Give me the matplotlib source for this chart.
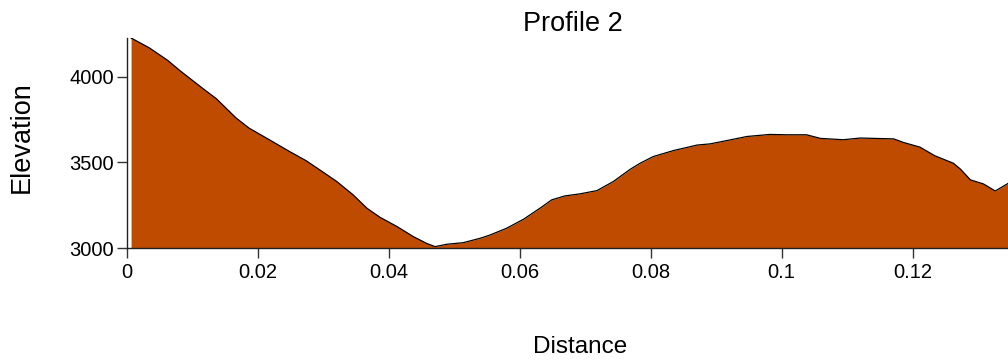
import matplotlib
matplotlib.use("Agg")
import matplotlib.pyplot as plt
from matplotlib import font_manager

distance = [0.0007, 0.0035, 0.0063, 0.0083, 0.0119, 0.0137, 0.0167, 0.0187, 0.0218,
            0.0249, 0.0274, 0.0295, 0.0321, 0.0346, 0.0367, 0.0387, 0.0413, 0.0438,
            0.0458, 0.0471, 0.0489, 0.0514, 0.0540, 0.0555, 0.0580, 0.0606, 0.0631,
            0.0649, 0.0669, 0.0692, 0.0718, 0.0743, 0.0769, 0.0784, 0.0804, 0.0835,
            0.0871, 0.0891, 0.0916, 0.0947, 0.0982, 0.1008, 0.1038, 0.1059, 0.1094,
            0.1120, 0.1171, 0.1186, 0.1211, 0.1234, 0.1262, 0.1273, 0.1288, 0.1308,
            0.1326, 0.1346, 0.1363]
elevation = [4226, 4168, 4095, 4031, 3924, 3872, 3760, 3700, 3632,
             3563, 3510, 3456, 3388, 3310, 3232, 3179, 3125, 3066,
             3027, 3008, 3022, 3031, 3057, 3076, 3115, 3168, 3232,
             3281, 3304, 3316, 3335, 3388, 3460, 3495, 3534, 3569,
             3601, 3608, 3627, 3651, 3663, 3661, 3661, 3640, 3632,
             3642, 3637, 3616, 3589, 3538, 3495, 3460, 3398, 3374,
             3333, 3378, 3415]

x_ticks = [0, 0.02, 0.04, 0.06, 0.08, 0.1, 0.12]
x_tick_labels = ["0", "0.02", "0.04", "0.06", "0.08", "0.1", "0.12"]
y_ticks = [3000, 3500, 4000]
y_tick_labels = ["3000", "3500", "4000"]

title = "Profile 2"
x_label = "Distance"
y_label = "Elevation"

plt.rcParams['font.family'] = ['Liberation Sans', 'DejaVu Sans']
names = {f.name for f in font_manager.fontManager.ttflist}
narrow = 'Liberation Sans Narrow' if 'Liberation Sans Narrow' in names else 'Liberation Sans'

W, H = 1008, 360
fig = plt.figure(figsize=(W / 100, H / 100), dpi=100)
left, right, top, bottom = 126.5, 1019.5, 38, 248
ax = fig.add_axes([left / W, 1 - bottom / H, (right - left) / W, (bottom - top) / H])

ymin = 3000
ax.fill_between(distance, elevation, ymin, color='#BE4B00', linewidth=0)
ax.plot(distance, elevation, color='black', linewidth=0.9)

ax.set_xlim(0, max(distance))
ax.set_ylim(ymin, max(elevation))

for s in ['top', 'right']:
    ax.spines[s].set_visible(False)
for s in ['left', 'bottom']:
    ax.spines[s].set_color('#222222')
    ax.spines[s].set_linewidth(1.0)

ax.set_xticks(x_ticks)
ax.set_xticklabels(x_tick_labels)
ax.set_yticks(y_ticks)
ax.set_yticklabels(y_tick_labels)
ax.tick_params(axis='both', length=7.5, width=1.0, color='#333333', labelsize=14.5)
ax.tick_params(axis='y', pad=1.5)
ax.tick_params(axis='x', pad=3)

fig.text(573 / W, 1 - 24 / H, title, ha='center', va='center', fontsize=19.5)
fig.text(580 / W, 1 - 347 / H, x_label, ha='center', va='center', fontsize=17.5, family=narrow)
fig.text(22 / W, 1 - 137 / H, y_label, ha='center', va='center', rotation=90, fontsize=19.5)

fig.savefig("out.png", dpi=100)
